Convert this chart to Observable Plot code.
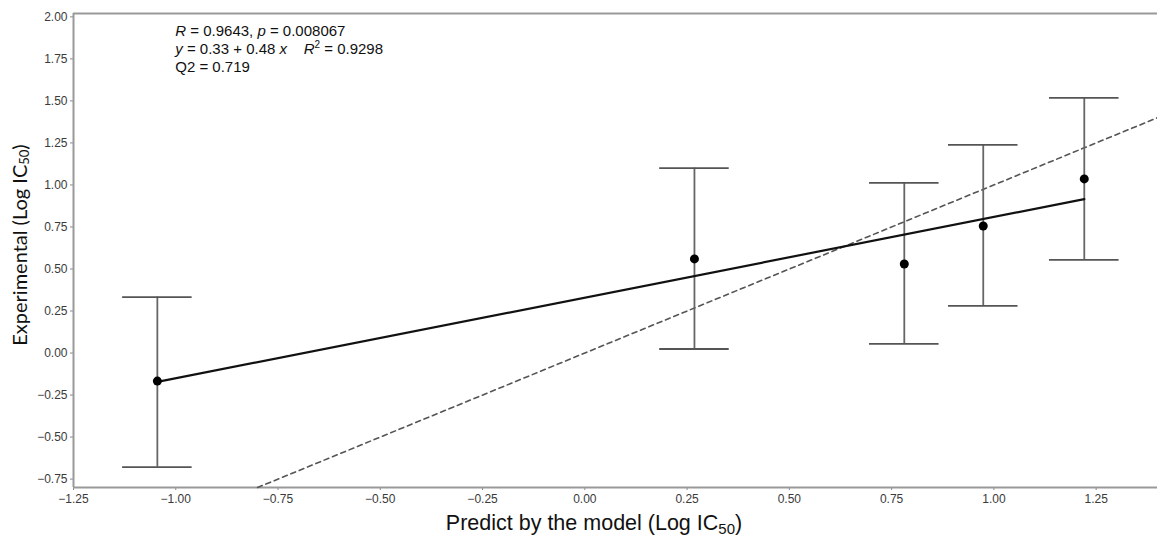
<!DOCTYPE html>
<html>
<head>
<meta charset="utf-8">
<script src="https://cdn.jsdelivr.net/npm/d3@7"></script>
<script src="https://cdn.jsdelivr.net/npm/@observablehq/plot@0.6"></script>
<style>
  html, body { margin: 0; padding: 0; background: #fff; }
  #chart { width: 1157px; height: 546px; }
</style>
</head>
<body>
<div id="chart"></div>
<script>
// ---- data ----
const predicted    = [-1.045, 0.268, 0.781, 0.974, 1.221];
const experimental = [-0.167, 0.560, 0.530, 0.756, 1.036];
const errLow       = [-0.679, 0.024, 0.054, 0.280, 0.554];
const errHigh      = [ 0.333, 1.100, 1.012, 1.238, 1.518];

// regression line endpoints (y = 0.33 + 0.48 x over the data range)
const fitX = [-1.045, 1.221];
const fitY = [-0.172, 0.916];

// identity (y = x) dashed line endpoints
const idX = [-0.80, 1.40];
const idY = [-0.80, 1.40];

const xTicks = [-1.25, -1.00, -0.75, -0.50, -0.25, 0.00, 0.25, 0.50, 0.75, 1.00, 1.25];
const yTicks = [-0.75, -0.50, -0.25, 0.00, 0.25, 0.50, 0.75, 1.00, 1.25, 1.50, 1.75, 2.00];

const xDomain = [-1.25, 1.40];
const yDomain = [-0.80, 2.02];

const statLine1 = ["R", " = 0.9643, ", "p", " = 0.008067"];
const statLine2 = ["y", " = 0.33 + 0.48 ", "x", "    ", "R", "2", " = 0.9298"];
const statLine3 = "Q2 = 0.719";

const xTitle = ["Predict by the model (Log IC", "50", ")"];
const yTitle = ["Experimental (Log IC", "50", ")"];

// ---- build tables ----
const pts = predicted.map((x, i) => ({x, y: experimental[i], lo: errLow[i], hi: errHigh[i]}));
const fit = fitX.map((x, i) => ({x, y: fitY[i]}));
const ident = idX.map((x, i) => ({x, y: idY[i]}));
const cap = 0.085;
const fmt = d3.format(".2f");

const plot = Plot.plot({
  width: 1157,
  height: 546,
  marginTop: 13,
  marginBottom: 59,
  marginLeft: 73,
  marginRight: 0,
  x: {domain: xDomain},
  y: {domain: yDomain},
  style: {fontFamily: "'Liberation Sans', Arial, sans-serif", fontSize: "12px", color: "#3a3a3a", background: "#fff"},
  marks: [
    Plot.axisX({ticks: xTicks, tickFormat: fmt, tickSize: 3, tickPadding: 4, label: null, stroke: "#888"}),
    Plot.axisY({ticks: yTicks, tickFormat: fmt, tickSize: 3, tickPadding: 3, label: null, stroke: "#888"}),
    Plot.ruleX([xDomain[0]], {stroke: "#999", strokeWidth: 2}),
    Plot.ruleY([yDomain[0]], {stroke: "#999", strokeWidth: 2}),
    Plot.ruleY([yDomain[1]], {stroke: "#999", strokeWidth: 2}),
    Plot.line(ident, {x: "x", y: "y", stroke: "#555", strokeWidth: 1.6, strokeDasharray: "5,4"}),
    Plot.ruleX(pts, {x: "x", y1: "lo", y2: "hi", stroke: "#666", strokeWidth: 1.8}),
    Plot.ruleY(pts, {y: "hi", x1: d => d.x - cap, x2: d => d.x + cap, stroke: "#555", strokeWidth: 1.8}),
    Plot.ruleY(pts, {y: "lo", x1: d => d.x - cap, x2: d => d.x + cap, stroke: "#555", strokeWidth: 1.8}),
    Plot.line(fit, {x: "x", y: "y", stroke: "#111", strokeWidth: 2.2}),
    Plot.dot(pts, {x: "x", y: "y", r: 4.5, fill: "#000"})
  ]
});

document.getElementById("chart").appendChild(plot);

// ---- annotations and axis titles ----
const svg = d3.select(plot);
const sx = plot.scale("x");
const ann = svg.append("g")
  .attr("font-family", "'Liberation Sans', Arial, sans-serif")
  .attr("font-size", 15)
  .attr("text-anchor", "start")
  .attr("fill", "#111");
const ax = sx.apply(-1.0);

const t1 = ann.append("text").attr("x", ax).attr("y", 36);
statLine1.forEach((s, i) => t1.append("tspan").attr("font-style", i % 2 === 0 ? "italic" : null).text(s));

const t2 = ann.append("text").attr("x", ax).attr("y", 54).attr("xml:space", "preserve");
t2.append("tspan").attr("font-style", "italic").text(statLine2[0]);
t2.append("tspan").text(statLine2[1]);
t2.append("tspan").attr("font-style", "italic").text(statLine2[2]);
t2.append("tspan").text(statLine2[3]);
t2.append("tspan").attr("font-style", "italic").text(statLine2[4]);
t2.append("tspan").attr("font-size", 10).attr("dy", -6).text(statLine2[5]);
t2.append("tspan").attr("dy", 6).text(statLine2[6]);

ann.append("text").attr("x", ax).attr("y", 72).text(statLine3);

// x title
const xt = svg.append("text")
  .attr("x", 594).attr("y", 530)
  .attr("text-anchor", "middle")
  .attr("font-family", "'Liberation Sans', Arial, sans-serif")
  .attr("font-size", 21.5).attr("fill", "#111");
xt.append("tspan").text(xTitle[0]);
xt.append("tspan").attr("font-size", 15).attr("dy", 4).text(xTitle[1]);
xt.append("tspan").attr("dy", -4).text(xTitle[2]);

// y title
const yt = svg.append("text")
  .attr("transform", "translate(27,245) rotate(-90)")
  .attr("text-anchor", "middle")
  .attr("font-family", "Lato, 'Open Sans', sans-serif")
  .attr("font-size", 20).attr("fill", "#111");
yt.append("tspan").text(yTitle[0]);
yt.append("tspan").attr("font-size", 13).attr("dy", 2).text(yTitle[1]);
yt.append("tspan").attr("dy", -2).text(yTitle[2]);
</script>
</body>
</html>
